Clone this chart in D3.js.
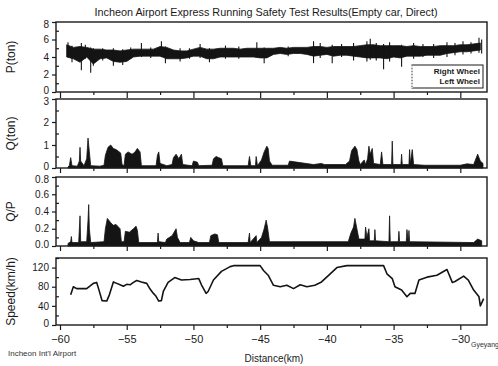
<!DOCTYPE html>
<html>
<head>
<meta charset="utf-8">
<script src="https://cdn.jsdelivr.net/npm/d3@7"></script>
<style>
  body { margin: 0; background: #fff; }
  svg { display: block; font-family: Arial, "Liberation Sans", sans-serif; }
</style>
</head>
<body>
<div id="wrapper"></div>
<script>
// ---- data ----
// P(ton) dense core band, 0.5 km steps from -59.5 to -28.5
const pKm = d3.range(-59.5, -28.4, 0.5)
const pHigh = [5.4, 5.1, 5.2, 5.1, 4.9, 4.9, 4.8, 4.8, 4.7, 4.8, 4.9, 4.9, 4.9, 4.9, 5.2, 5.1,
  4.8, 4.7, 4.7, 4.9, 5.1, 4.9, 4.9, 5.0, 5.0, 5.0, 4.9, 5.0, 5.0, 5.0, 5.0, 5.0,
  5.1, 5.0, 5.1, 5.1, 5.1, 5.2, 5.2, 5.1, 5.2, 5.2, 5.2, 5.2, 5.3, 5.4, 5.4, 5.3,
  5.3, 5.3, 5.3, 5.2, 5.3, 5.2, 5.2, 5.2, 5.3, 5.3, 5.3, 5.4, 5.4, 5.5, 5.6]
const pLow = [4.0, 3.8, 3.4, 4.0, 3.2, 3.8, 3.9, 3.5, 3.4, 3.5, 4.0, 4.1, 4.1, 4.1, 4.1, 3.8,
  3.8, 3.8, 3.9, 4.1, 4.1, 3.8, 3.8, 4.0, 4.0, 4.0, 4.0, 4.0, 4.0, 3.9, 3.9, 4.3,
  4.4, 4.3, 4.4, 4.4, 4.3, 4.1, 4.2, 4.3, 4.1, 4.2, 4.2, 4.1, 4.0, 3.9, 3.9, 3.9,
  3.8, 4.0, 3.9, 4.1, 4.1, 4.1, 4.2, 4.2, 4.2, 4.4, 4.5, 4.6, 4.6, 4.7, 4.8]
// P(ton) single spikes beyond the core
const pSpikeKm = [-59.4, -59.1, -58.4, -58.1, -57.7, -57.5, -56.8, -56.0, -55.3, -54.7, -53.9, -53.2,
  -52.4, -52.1, -51.0, -50.3, -49.5, -48.8, -47.6, -46.6, -45.25, -44.7, -42.9, -41.0, -40.5,
  -39.6, -38.9, -38.0, -37.0, -36.75, -36.3, -35.75, -35.3, -34.4, -33.5, -32.8, -32.0, -31.0,
  -30.4, -29.8, -29.2, -28.6, -28.4]
const pSpikeTop = [5.7, 5.3, 5.6, 5.4, 5.1, 5.0, 5.0, 5.0, 4.9, 5.1, 5.6, 5.1,
  5.8, 5.2, 5.0, 5.0, 5.5, 5.0, 5.3, 5.2, 5.7, 5.1, 5.2, 5.8, 5.6,
  5.4, 5.5, 5.6, 5.8, 6.1, 5.6, 5.5, 5.7, 5.4, 5.6, 5.5, 5.5, 5.7,
  5.6, 5.8, 5.7, 6.2, 6.0]
const pSpikeBot = [4.0, 3.4, 2.5, 3.8, 2.2, 3.0, 3.6, 3.0, 3.1, 3.8, 4.0, 3.9,
  4.0, 3.3, 3.5, 3.8, 3.9, 3.4, 3.8, 3.8, 4.0, 3.3, 4.1, 3.3, 3.9,
  3.3, 4.0, 3.6, 3.5, 3.7, 3.6, 2.6, 3.5, 2.9, 3.8, 4.0, 3.9, 4.0,
  4.2, 4.3, 4.4, 4.5, 4.4]

// Q(ton) upper envelope
const qKm = [-59.4, -59.3, -59.2, -59.1, -58.7, -58.55, -58.5, -58.45, -58.2, -58.0, -57.9, -57.8, -57.7,
  -57.0, -56.7, -56.6, -56.4, -56.2, -56.0, -55.8, -55.6, -55.45, -55.35, -55.2, -55.1, -54.9, -54.6,
  -54.4, -54.2, -54.0, -53.9, -52.8, -52.7, -52.6, -52.5, -52.0, -51.6, -51.5, -51.3, -51.1, -50.9,
  -50.8, -50.1, -50.0, -49.7, -49.6, -48.6, -48.5, -48.3, -48.1, -47.9, -47.8, -45.9, -45.8, -45.7,
  -45.35, -45.3, -45.2, -44.9, -44.7, -44.5, -44.4, -44.3, -44.1, -42.9, -42.8, -41.0, -40.4, -40.2,
  -38.6, -38.3, -38.15, -37.9, -37.75, -37.6, -37.5, -37.2, -37.1, -36.95, -36.85, -36.75, -36.6,
  -36.5, -36.0, -35.9, -35.8, -35.15, -35.1, -35.05, -34.45, -34.4, -34.35, -33.85, -33.8, -33.75,
  -33.6, -33.5, -32.7, -30.0, -29.5, -29.0, -28.7, -28.5, -28.3]
const qVal = [0.05, 0.1, 0.45, 0.1, 0.08, 0.3, 0.9, 0.3, 0.1, 0.4, 1.3, 0.7, 0.1,
  0.08, 0.12, 0.55, 0.9, 1.0, 0.85, 0.8, 0.72, 0.65, 0.15, 0.1, 0.6, 0.7, 0.6,
  0.68, 0.85, 0.7, 0.1, 0.1, 0.55, 0.7, 0.2, 0.1, 0.15, 0.45, 0.6, 0.4, 0.6,
  0.15, 0.1, 0.3, 0.25, 0.1, 0.12, 0.4, 0.5, 0.45, 0.4, 0.1, 0.1, 0.5, 0.1,
  0.1, 0.5, 0.1, 0.35, 0.7, 0.95, 0.85, 0.3, 0.12, 0.12, 0.3, 0.15, 0.2, 0.15,
  0.15, 0.3, 0.75, 0.95, 0.8, 0.3, 0.15, 0.35, 0.15, 0.4, 0.95, 0.6, 0.85,
  0.2, 0.15, 0.7, 0.15, 0.15, 1.17, 0.15, 0.15, 0.6, 0.15, 0.15, 0.8, 0.2,
  0.8, 0.15, 0.12, 0.12, 0.18, 0.15, 0.6, 0.3, 0.2]

// Q/P upper envelope
const qpKm = [-59.4, -59.2, -59.15, -59.1, -58.6, -58.5, -58.45, -58.0, -57.9, -57.85, -57.8, -57.7,
  -56.7, -56.6, -56.45, -56.2, -56.0, -55.8, -55.5, -55.4, -55.2, -55.1, -54.8, -54.5, -54.3, -54.2,
  -54.1, -52.7, -52.65, -52.6, -52.1, -52.0, -51.6, -51.3, -51.2, -51.0, -50.3, -50.2, -50.0, -49.6,
  -48.8, -48.7, -48.4, -48.2, -48.1, -45.9, -45.8, -45.75, -45.3, -45.25, -44.9, -44.7, -44.55,
  -44.45, -44.3, -38.4, -38.2, -38.0, -37.9, -37.75, -37.6, -37.15, -37.1, -37.0, -36.85, -36.8,
  -36.45, -36.4, -36.35, -35.35, -35.3, -35.25, -34.65, -34.6, -34.55, -34.05, -34.0, -33.9,
  -33.85, -33.8, -29.0, -28.7, -28.4]
const qpVal = [0.03, 0.05, 0.11, 0.04, 0.04, 0.35, 0.05, 0.05, 0.3, 0.48, 0.2, 0.04,
  0.05, 0.2, 0.32, 0.27, 0.24, 0.25, 0.2, 0.05, 0.05, 0.17, 0.16, 0.2, 0.23, 0.18,
  0.04, 0.04, 0.15, 0.05, 0.04, 0.08, 0.12, 0.2, 0.1, 0.04, 0.04, 0.1, 0.06, 0.04,
  0.04, 0.12, 0.14, 0.13, 0.04, 0.04, 0.15, 0.04, 0.12, 0.04, 0.1, 0.2, 0.3,
  0.22, 0.05, 0.05, 0.15, 0.22, 0.32, 0.2, 0.08, 0.08, 0.22, 0.1, 0.2, 0.06,
  0.06, 0.19, 0.06, 0.05, 0.35, 0.05, 0.05, 0.17, 0.05, 0.05, 0.19, 0.05,
  0.18, 0.05, 0.04, 0.08, 0.06]

// Speed(km/h)
const speedKm = [-59.2, -59.0, -58.75, -58.5, -58.0, -57.5, -57.25, -57.1, -56.85, -56.5, -56.3, -56.0,
  -55.75, -55.5, -55.25, -55.0, -54.75, -54.5, -54.25, -53.9, -53.5, -53.25, -53.0, -52.8, -52.6,
  -52.4, -52.25, -51.9, -51.4, -50.9, -50.25, -49.6, -49.4, -49.05, -48.9, -48.5, -47.9, -47.25,
  -47.0, -45.0, -44.75, -44.4, -44.0, -43.5, -43.0, -42.5, -42.0, -41.5, -40.9, -40.4, -39.75,
  -39.25, -38.5, -35.75, -35.5, -35.1, -34.9, -34.4, -34.0, -33.75, -33.4, -33.1, -32.5, -31.75,
  -31.0, -30.6, -30.4, -29.75, -29.4, -29.0, -28.6, -28.5, -28.25]
const speedVal = [63, 80, 76, 76, 76, 87, 89, 75, 51, 50, 63, 90,
  87, 84, 81, 85, 84, 89, 93, 90, 87, 75, 66, 60, 50,
  51, 71, 89, 99, 94, 95, 97, 84, 66, 70, 94, 112, 122,
  124, 124, 114, 104, 83, 80, 83, 76, 84, 80, 83, 90, 107,
  120, 124, 124, 107, 97, 80, 73, 59, 66, 66, 94, 100, 104,
  116, 89, 91, 102, 94, 73, 59, 40, 55]

const xMajor = [-60, -55, -50, -45, -40, -35, -30]
const xMinor = [-57.5, -52.5, -47.5, -42.5, -37.5, -32.5]
const legendLabels = ["Right Wheel", "Left Wheel"]

function drawChart() {
  const dimensions = { width: 498, height: 366, left: 56, right: 487 }

  const svg = d3.select("#wrapper").append("svg")
    .attr("width", dimensions.width)
    .attr("height", dimensions.height)

  const xScale = d3.scaleLinear()
    .domain([-60.3, -28])
    .range([dimensions.left, dimensions.right])

  const panels = [
    { label: "P(ton)", domain: [0, 8], top: 22, bottom: 92, major: [0, 2, 4, 6, 8], minor: [1, 3, 5, 7], fmt: d3.format("d") },
    { label: "Q(ton)", domain: [0, 3], top: 99, bottom: 168, major: [0, 1, 2, 3], minor: [0.5, 1.5, 2.5], fmt: d3.format("d") },
    { label: "Q/P", domain: [0, 0.8], top: 177, bottom: 246, major: [0, 0.2, 0.4, 0.6, 0.8], minor: [0.1, 0.3, 0.5, 0.7], fmt: d3.format(".1f") },
    { label: "Speed(km/h)", domain: [0, 140], top: 258, bottom: 325, major: [0, 40, 80, 120], minor: [20, 60, 100, 140], fmt: d3.format("d") },
  ]

  panels.forEach((p, i) => {
    p.y = d3.scaleLinear().domain(p.domain).range([p.bottom, p.top])
    const g = svg.append("g")

    // data marks
    if (i === 0) {
      const rows = pKm.map((k, j) => ({ km: k, hi: pHigh[j], lo: pLow[j] }))
      g.append("path")
        .datum(rows)
        .attr("fill", "#141414")
        .attr("stroke", "#141414")
        .attr("stroke-width", 0.8)
        .attr("d", d3.area().x(d => xScale(d.km)).y0(d => p.y(d.lo)).y1(d => p.y(d.hi)))
      g.selectAll(".spike")
        .data(pSpikeKm)
        .join("line")
        .attr("x1", d => xScale(d))
        .attr("x2", d => xScale(d))
        .attr("y1", (d, j) => p.y(pSpikeBot[j]))
        .attr("y2", (d, j) => p.y(pSpikeTop[j]))
        .attr("stroke", "#141414")
        .attr("stroke-width", 1.1)
    } else if (i === 1 || i === 2) {
      const ks = i === 1 ? qKm : qpKm
      const vs = i === 1 ? qVal : qpVal
      const rows = ks.map((k, j) => ({ km: k, v: vs[j] }))
      g.append("path")
        .datum(rows)
        .attr("fill", "#141414")
        .attr("stroke", "#141414")
        .attr("stroke-width", 0.8)
        .attr("d", d3.area().x(d => xScale(d.km)).y0(p.y(0)).y1(d => p.y(d.v)))
    } else {
      const rows = speedKm.map((k, j) => ({ km: k, v: speedVal[j] }))
      g.append("path")
        .datum(rows)
        .attr("fill", "none")
        .attr("stroke", "#141414")
        .attr("stroke-width", 1.6)
        .attr("stroke-linejoin", "round")
        .attr("d", d3.line().x(d => xScale(d.km)).y(d => p.y(d.v)))
    }

    // frame
    g.append("rect")
      .attr("x", dimensions.left)
      .attr("y", p.top)
      .attr("width", dimensions.right - dimensions.left)
      .attr("height", p.bottom - p.top)
      .attr("fill", "none")
      .attr("stroke", "#1a1a1a")
      .attr("stroke-width", 1.4)

    // y axis
    const yAxis = g.append("g")
      .attr("transform", `translate(${dimensions.left},0)`)
      .call(d3.axisLeft(p.y).tickValues(p.major).tickFormat(p.fmt).tickSize(4).tickSizeOuter(0).tickPadding(3))
    const yMinor = g.append("g")
      .attr("transform", `translate(${dimensions.left},0)`)
      .call(d3.axisLeft(p.y).tickValues(p.minor).tickFormat("").tickSize(-3).tickSizeOuter(0))

    // keep the stacked end labels from running into each other
    yAxis.selectAll(".tick text")
      .attr("dy", d => d === p.domain[0] ? "0.1em" : d === p.domain[1] ? "0.55em" : "0.32em")

    // x axis ticks
    const xAxis = g.append("g")
      .attr("transform", `translate(0,${p.bottom})`)
      .call(d3.axisBottom(xScale).tickValues(xMajor).tickSize(i === 0 ? 6 : 5).tickSizeOuter(0)
        .tickFormat(i === 3 ? d3.format("d") : "").tickPadding(5))
    const xMinorAxis = g.append("g")
      .attr("transform", `translate(0,${p.bottom})`)
      .call(d3.axisBottom(xScale).tickValues(xMinor).tickSize(3).tickSizeOuter(0).tickFormat(""))

    ;[yAxis, yMinor, xAxis, xMinorAxis].forEach(a => {
      a.select(".domain").remove()
      a.selectAll("line").attr("stroke", "#1a1a1a").attr("stroke-width", 1.2)
      a.selectAll("text").attr("fill", "#1a1a1a").style("font-size", "10px")
    })
    xAxis.selectAll("text").style("font-size", "11px")

    // y label
    svg.append("text")
      .attr("transform", `translate(15,${(p.top + p.bottom) / 2}) rotate(-90)`)
      .attr("text-anchor", "middle")
      .attr("fill", "#1a1a1a")
      .style("font-size", "12px")
      .text(p.label)
  })

  // legend in the P panel
  const legend = svg.append("g")
  legend.append("rect")
    .attr("x", 412).attr("y", 65).attr("width", 71).attr("height", 23)
    .attr("fill", "#fff").attr("stroke", "#1a1a1a").attr("stroke-width", 1)
  legend.append("line")
    .attr("x1", 412).attr("x2", 412).attr("y1", 65).attr("y2", 88)
    .attr("stroke", "#fff").attr("stroke-width", 1.5)
  legend.append("line")
    .attr("x1", 412).attr("x2", 412).attr("y1", 65).attr("y2", 88)
    .attr("stroke", "#555").attr("stroke-width", 1).attr("stroke-dasharray", "1,2")
  legend.selectAll(".lg")
    .data(legendLabels)
    .join("text")
    .attr("x", 480)
    .attr("y", (d, i) => 74 + i * 10)
    .attr("text-anchor", "end")
    .attr("fill", "#1a1a1a")
    .style("font-size", "8px")
    .style("font-weight", "bold")
    .text(d => d)

  // title and annotations
  svg.append("text")
    .attr("x", 266).attr("y", 16)
    .attr("text-anchor", "middle")
    .attr("fill", "#1a1a1a")
    .attr("textLength", 343)
    .attr("lengthAdjust", "spacingAndGlyphs")
    .style("font-size", "11px")
    .text("Incheon Airport Express Running Safety Test Results(Empty car, Direct)")

  svg.append("text")
    .attr("x", 274).attr("y", 362)
    .attr("text-anchor", "middle")
    .attr("fill", "#1a1a1a")
    .style("font-size", "10px")
    .text("Distance(km)")

  svg.append("text")
    .attr("x", 8).attr("y", 356)
    .attr("fill", "#333")
    .style("font-size", "8px")
    .text("Incheon Int'l Airport")

  svg.append("text")
    .attr("x", 471).attr("y", 347)
    .attr("fill", "#333")
    .style("font-size", "7px")
    .text("Gyeyang")
}
drawChart()
</script>
</body>
</html>
